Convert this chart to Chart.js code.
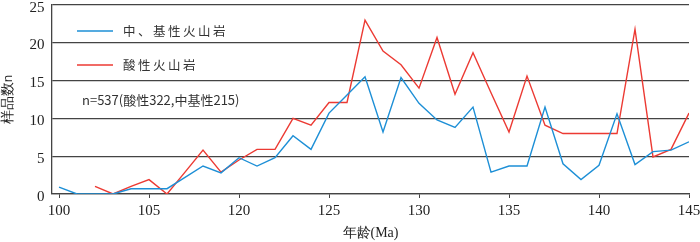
<!DOCTYPE html>
<html>
<head>
<meta charset="utf-8">
<script src="https://cdn.jsdelivr.net/npm/chart.js@4.4.1/dist/chart.umd.min.js"></script>
<style>
    html, body { margin: 0; padding: 0; background: #ffffff; }
    #wrap { width: 700px; height: 242px; }
</style>
</head>
<body>
<div id="wrap"><canvas id="ageChart" width="700" height="242"></canvas></div>
<script>
// x positions are sample slots; the printed ages jump from 105 to 116
const ages = [100, 101, 102, 103, 104, 105,
    116, 117, 118, 119, 120, 121, 122, 123, 124, 125, 126, 127, 128, 129, 130,
    131, 132, 133, 134, 135, 136, 137, 138, 139, 140, 141, 142, 143, 144, 145];
const tickSlots = [0, 5, 10, 15, 20, 25, 30, 35];
const yTicks = [0, 5, 10, 15, 20, 25];

const seriesNames = ['中、基性火山岩', '酸性火山岩'];
const noteText = 'n=537(酸性322,中基性215)';

// 中、基性火山岩
const basicValues = [0.9, 0, 0, 0, 0.7, 0.7, 0.7, 2.2, 3.7, 2.8, 4.8, 3.7, 4.8, 7.7, 5.9, 10.7, 13.1, 15.5,
    8.2, 15.4, 12.0, 9.8, 8.8, 11.5, 2.9, 3.7, 3.7, 11.5, 4.0, 1.9, 3.8, 10.6, 3.9, 5.6, 5.8, 6.9];
// 酸性火山岩
const acidValues = [null, null, 1.0, 0, 1.0, 1.9, 0, 2.9, 5.8, 2.9, 4.5, 5.9, 5.9, 10.0, 9.1, 12.1, 12.1, 23.0,
    18.9, 17.1, 14.0, 20.7, 13.2, 18.7, 13.4, 8.2, 15.6, 9.1, 8.0, 8.0, 8.0, 8.0, 21.8, 4.9, 5.9, 10.7];

const BLUE = '#1d8fd6';
const RED = '#ec3a33';
const GRID = '#444444';
const TEXT = '#222222';
const SERIF_FONT = "15px 'Liberation Serif', serif";
const CJK = "'Noto Sans CJK SC', 'Liberation Sans', sans-serif";

Chart.defaults.color = TEXT;

function toPoints(values) {
    return values.map((v, i) => ({ x: i, y: v }));
}

// tick labels: the built-in ones kept ignoring the serif font here,
// so they are written at the scales' own tick positions instead
const tickText = {
    id: 'tickText',
    afterDraw(chart) {
        const ctx = chart.ctx;
        const xs = chart.scales.x;
        const ys = chart.scales.y;
        ctx.save();
        ctx.font = SERIF_FONT;
        ctx.fillStyle = TEXT;
        ctx.textBaseline = 'alphabetic';

        ctx.textAlign = 'center';
        xs.ticks.forEach(t => {
            ctx.fillText(String(ages[t.value]), xs.getPixelForValue(t.value), 214.5);
        });

        ctx.textAlign = 'right';
        ys.ticks.forEach(t => {
            ctx.fillText(String(t.value), ys.left + ys.width - 7.5, ys.getPixelForValue(t.value) + 6.5);
        });
        ctx.restore();
    }
};

// legend + sample count drawn inside the plot, top-left
const innerLegend = {
    id: 'innerLegend',
    afterDraw(chart) {
        const ctx = chart.ctx;
        const rows = [31, 65];
        ctx.save();
        chart.data.datasets.forEach((ds, i) => {
            const y = rows[i];
            ctx.strokeStyle = ds.borderColor;
            ctx.lineWidth = 1.4;
            ctx.beginPath();
            ctx.moveTo(77, y);
            ctx.lineTo(113, y);
            ctx.stroke();

            ctx.fillStyle = '#333333';
            ctx.font = '12.5px ' + CJK;
            ctx.letterSpacing = '2.5px';
            ctx.textBaseline = 'middle';
            ctx.textAlign = 'left';
            ctx.fillText(ds.label, 123, y);
        });
        ctx.letterSpacing = '0px';
        ctx.font = '13px ' + CJK;
        ctx.fillText(noteText, 82, 100);
        ctx.restore();
    }
};

const ctx = document.getElementById('ageChart').getContext('2d');

new Chart(ctx, {
    type: 'line',
    data: {
        datasets: [
            {
                label: seriesNames[0],
                data: toPoints(basicValues),
                borderColor: BLUE,
                borderWidth: 1.4,
                pointRadius: 0,
                tension: 0
            },
            {
                label: seriesNames[1],
                data: toPoints(acidValues),
                borderColor: RED,
                borderWidth: 1.4,
                pointRadius: 0,
                tension: 0
            }
        ]
    },
    options: {
        responsive: false,
        animation: false,
        events: [],
        layout: {
            padding: { top: 5, right: 11, left: 0, bottom: 0 }
        },
        plugins: {
            legend: { display: false },
            tooltip: { enabled: false }
        },
        scales: {
            x: {
                type: 'linear',
                min: -0.39,
                max: 35,
                afterBuildTicks: (scale) => {
                    scale.ticks = tickSlots.map(v => ({ value: v }));
                },
                afterFit: (scale) => { scale.height = 48; },
                grid: {
                    display: true,
                    drawOnChartArea: false,
                    drawTicks: true,
                    tickLength: 4,
                    color: GRID
                },
                border: { display: true, color: GRID, width: 1.3 },
                ticks: { display: false },
                title: {
                    display: true,
                    text: '年龄(Ma)',
                    color: TEXT,
                    font: { family: 'serif', size: 14 },
                    padding: { top: 0, bottom: 0 }
                }
            },
            y: {
                min: 0,
                max: 25,
                afterBuildTicks: (scale) => {
                    scale.ticks = yTicks.map(v => ({ value: v }));
                },
                afterFit: (scale) => { scale.width = 52; },
                grid: {
                    color: GRID,
                    lineWidth: 1.3,
                    drawTicks: false
                },
                border: { display: true, color: GRID, width: 1.3 },
                ticks: { display: false },
                title: {
                    display: true,
                    text: '样品数n',
                    color: TEXT,
                    font: { family: 'sans-serif', size: 13.5 },
                    padding: { top: 0, bottom: 0 }
                }
            }
        }
    },
    plugins: [tickText, innerLegend]
});
</script>
</body>
</html>
